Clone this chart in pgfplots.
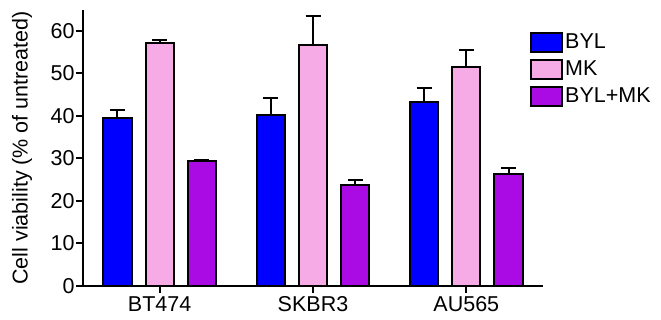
\documentclass[border=0pt]{standalone}
\usepackage{pgfplots}
\pgfplotsset{compat=1.18}
\usepackage{fontspec}
\setmainfont{Liberation Sans}
\definecolor{cblue}{RGB}{0,0,255}
\definecolor{cpink}{RGB}{246,170,230}
\definecolor{cpurple}{RGB}{170,10,228}
\newcommand{\bigf}{\fontsize{21.5}{24}\selectfont}
\begin{document}
\begin{tikzpicture}
\path[use as bounding box] (-83pt,-34pt) rectangle (578pt,286pt);
\begin{axis}[
  scale only axis, width=460pt, height=276.25pt,
  xmin=-0.5, xmax=2.5, ymin=0, ymax=65,
  axis x line*=bottom, axis y line*=left,
  xtick={0,1,2}, xticklabels={BT474,SKBR3,AU565},
  ytick={0,10,...,60},
  tick align=outside, major tick length=7pt,
  axis line style={line width=2.5pt, black},
  tick style={line width=2pt, black},
  /pgf/number format/assume math mode=true,
  ticklabel style={font=\bigf},
  yticklabel style={xshift=2pt},
  label style={font=\bigf},
  ylabel={Cell viability (\% of untreated)},
  ylabel style={at={(axis description cs:-0.1326,0.5)}, anchor=center},
  legend style={at={(axis description cs:0.9717,0.9213)}, anchor=north west, draw=none, fill=none,
    font=\bigf, inner sep=0pt, row sep=6pt, nodes={inner xsep=2pt, inner ysep=0pt}},
  legend cell align=left,
  legend image code/.code={\draw[#1, line width=2pt] (0pt,-9.5pt) rectangle (31pt,9.5pt);},
  error bars/y dir=plus, error bars/y explicit,
  error bars/error bar style={line width=2pt, black},
  error bars/error mark options={line width=2pt, black, mark size=7.5pt, rotate=90},
]
\addplot[ybar, bar width=0.183, bar shift=0, fill=cblue, draw=black, line width=2pt]
  coordinates {(-0.275,39.5) +- (0,1.9) (0.725,40.2) +- (0,4.0) (1.725,43.4) +- (0,3.3)};
\addplot[ybar, bar width=0.183, bar shift=0, fill=cpink, draw=black, line width=2pt]
  coordinates {(0,57.2) +- (0,0.6) (1,56.6) +- (0,7.0) (2,51.6) +- (0,3.9)};
\addplot[ybar, bar width=0.183, bar shift=0, fill=cpurple, draw=black, line width=2pt]
  coordinates {(0.275,29.5) +- (0,0.1) (1.275,23.8) +- (0,1.1) (2.275,26.3) +- (0,1.4)};
\legend{BYL,MK,BYL+MK}
\end{axis}
\end{tikzpicture}
\end{document}
